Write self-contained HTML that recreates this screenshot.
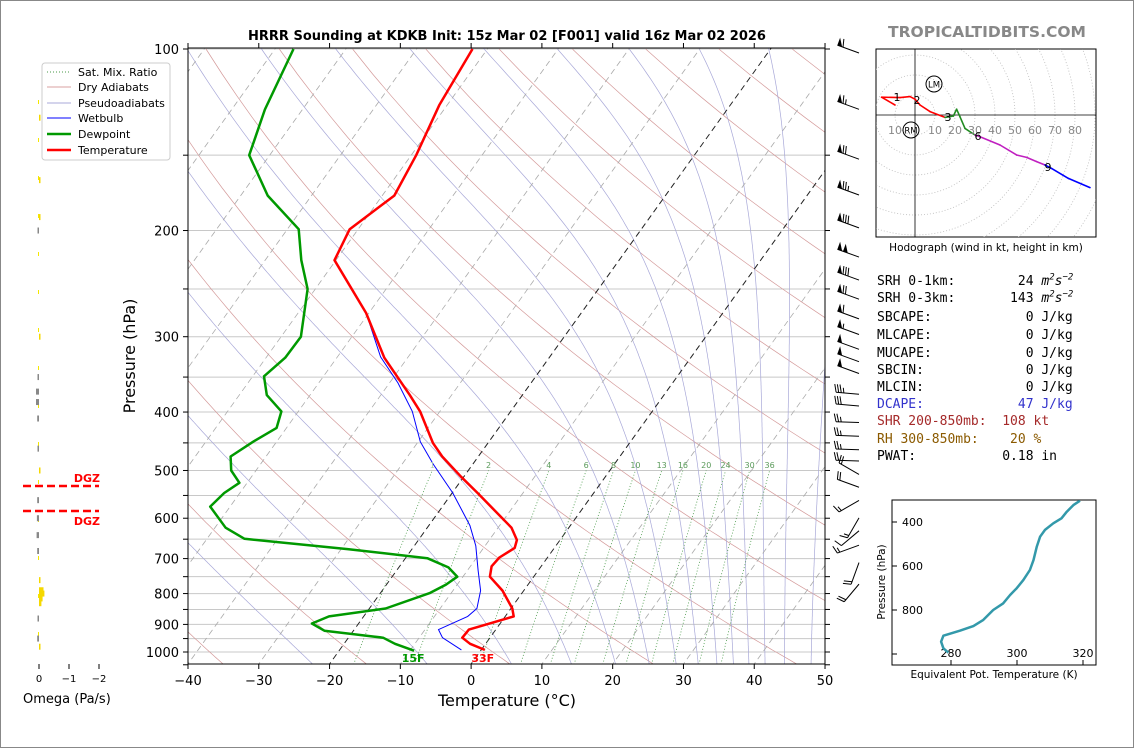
<!DOCTYPE html>
<html><head><meta charset="utf-8">
<style>
html,body{margin:0;padding:0;background:#fff;}
#wrap{position:relative;width:1134px;height:748px;overflow:hidden;background:#fff;}
svg{position:absolute;left:0;top:0;}
.ln{position:absolute;left:877px;font-family:"DejaVu Sans Mono","Liberation Mono",monospace;font-size:13px;white-space:pre;line-height:15px;}
</style></head>
<body>
<div id="wrap">
<svg id="svg" width="1134" height="748" font-family="DejaVu Sans, Liberation Sans, sans-serif">
  <defs><clipPath id="mainclip"><rect x="188" y="48" width="637" height="616"/></clipPath>
  <clipPath id="hodoclip"><rect x="876" y="49" width="220" height="188"/></clipPath>
  <clipPath id="thclip"><rect x="892" y="500" width="204" height="165"/></clipPath></defs>
  <rect x="0.5" y="0.5" width="1133" height="747" fill="none" stroke="#888"/>
  <text x="507" y="40" text-anchor="middle" font-size="13" font-weight="bold">HRRR Sounding at KDKB Init: 15z Mar 02 [F001] valid 16z Mar 02 2026</text>
  <text x="987" y="37" text-anchor="middle" font-size="15.5" font-weight="bold" fill="#888">TROPICALTIDBITS.COM</text>
  <g id="bg" clip-path="url(#mainclip)"></g>
  <g id="series" clip-path="url(#mainclip)"></g>
  <g id="axes"></g>
  <g id="barbs"></g>
  <g id="omega"></g>
  <g id="hodo"></g>
  <g id="theta"></g>
  <g>
    <rect x="42" y="63" width="128" height="97" rx="3" fill="#fff" stroke="#ccc"/>
    <line x1="47" y1="72" x2="71" y2="72" stroke="#4a9a4a" stroke-dasharray="1,2"/><text x="78" y="76" font-size="11">Sat. Mix. Ratio</text>
    <line x1="47" y1="87" x2="71" y2="87" stroke="#d9a0a0"/><text x="78" y="91" font-size="11">Dry Adiabats</text>
    <line x1="47" y1="103" x2="71" y2="103" stroke="#a8a8d8"/><text x="78" y="107" font-size="11">Pseudoadiabats</text>
    <line x1="47" y1="118" x2="71" y2="118" stroke="#0000ff"/><text x="78" y="122" font-size="11">Wetbulb</text>
    <line x1="47" y1="134" x2="71" y2="134" stroke="#009900" stroke-width="2.5"/><text x="78" y="138" font-size="11">Dewpoint</text>
    <line x1="47" y1="150" x2="71" y2="150" stroke="#ff0000" stroke-width="2.5"/><text x="78" y="154" font-size="11">Temperature</text>
  </g>
</svg>
<div class="ln" style="top:274px">SRH 0-1km:        24 <i>m<sup style="font-size:9px;line-height:0">2</sup>s<sup style="font-size:9px;line-height:0">−2</sup></i></div>
<div class="ln" style="top:291px">SRH 0-3km:       143 <i>m<sup style="font-size:9px;line-height:0">2</sup>s<sup style="font-size:9px;line-height:0">−2</sup></i></div>
<div class="ln" style="top:310px">SBCAPE:            0 J/kg</div>
<div class="ln" style="top:328px">MLCAPE:            0 J/kg</div>
<div class="ln" style="top:346px">MUCAPE:            0 J/kg</div>
<div class="ln" style="top:363px">SBCIN:             0 J/kg</div>
<div class="ln" style="top:380px">MLCIN:             0 J/kg</div>
<div class="ln" style="top:397px;color:#3333cc">DCAPE:            47 J/kg</div>
<div class="ln" style="top:414px;color:#a52a2a">SHR 200-850mb:  108 kt</div>
<div class="ln" style="top:432px;color:#8b5a00">RH 300-850mb:    20 %</div>
<div class="ln" style="top:449px">PWAT:           0.18 in</div>
</div>
<script>
// ---- data ----
const tempP=[100,124,150,175,199,224,274,325,375,399,450,474,512,545,622,652,672,697,721,750,791,847,873,918,947,969,992];
const tempT=[-62.1,-61.1,-59.3,-58.3,-61.2,-60.2,-50.4,-43.3,-35.9,-32.8,-27.8,-25.1,-20.4,-16.4,-8.1,-6.1,-5.6,-6.8,-7.0,-6.2,-3.0,0.2,1.2,-3.8,-3.9,-2.2,0.5];
const dewP=[100,126,150,175,199,224,250,300,325,349,375,399,425,448,474,500,524,545,574,622,649,675,699,724,750,773,798,847,873,897,922,947,969,995];
const dewT=[-87.4,-85.3,-82.9,-76.2,-68.4,-64.9,-61.1,-57.2,-57.3,-58.4,-56.1,-52.4,-51.4,-53.3,-55,-53.5,-51.1,-52.2,-52.8,-48.5,-44.7,-29.1,-16.9,-13.0,-10.8,-11.6,-13.0,-17.7,-24.9,-26.6,-24.1,-15.1,-12.8,-9.4];
const wbP=[100,124,150,175,199,224,274,324,358,399,448,488,545,617,667,732,791,847,873,918,947,992];
const wbT=[-62.1,-61.1,-59.3,-58.3,-61.2,-60.2,-50.4,-43.9,-38.8,-33.9,-29.7,-25.6,-19.9,-14.2,-11.3,-8.5,-6.1,-4.8,-5.3,-8.1,-6.7,-2.8];
const mixRatios=[1,2,4,6,8,10,13,16,20,24,30,36];
const pressureTicks=[100,200,300,400,500,600,700,800,900,1000];
const tempTicks=[-40,-30,-20,-10,0,10,20,30,40,50];
const barbP=[100,124,150,172,195,218,238,256,276,293,310,325,340,368,385,410,432,455,475,500,525,552,590,620,655,700,760];
const barbSpd=[60,65,70,75,80,100,80,70,60,55,50,50,50,35,30,25,25,25,20,20,20,15,15,10,15,20,20];
const barbDir=[290,290,290,290,290,290,290,290,290,290,290,290,290,275,275,272,272,272,272,300,290,240,210,230,250,200,220];
const omegaP=[130,165,190,200,300,350,370,385,410,460,500,560,600,640,680,760,790,800,815,830,880,950,980];
const omegaV=[-0.05,-0.04,-0.02,0.05,-0.02,0.05,0.1,0.1,0.06,0.04,-0.02,0.06,0.07,0.08,0.06,-0.05,-0.15,-0.18,-0.12,-0.08,0.05,0.06,-0.03];
const thetaE=[319.1,317.1,315.1,313.5,311,308.5,307,306,305,303.9,301.9,299.9,297.9,295.8,292.8,289.8,286.8,282.7,277.7,277,277.7,279.2];
const thetaP=[303,323,353,383,406,436,467,512,573,618,664,701,732,770,800,845,873,894,917,944,974,994];
const hodoU=[-10,-16.7,-7.5,-2.5,0,2.5,7.5,15,19.2,20.8,22.5,25,30,32.5,42.5,50.8,55.8,60.8,65,68.3,76.7,87.5];
const hodoV=[5,8.9,8.7,9.2,7.9,5,1.7,-1.2,-0.5,2.9,-0.9,-6.7,-10,-10.9,-15,-20,-21.2,-23.3,-25,-26.7,-31.7,-36.3];
const hodoSeg=['r','r','r','r','r','r','r','r','g','g','g','g','g','m','m','m','m','m','m','b','b','b'];

// ---- helpers ----
const NS='http://www.w3.org/2000/svg';
function mk(parent,tag,attrs,txt){const e=document.createElementNS(NS,tag);for(const k in attrs)e.setAttribute(k,attrs[k]);if(txt!==undefined)e.textContent=txt;parent.appendChild(e);return e;}
const yP=p=>49+603*Math.log10(p/100);
const xT=(T,p)=>188+(T+40)*7.078+0.717*(664-yP(p));
function pathFrom(ps,ts){return ps.map((p,i)=>(i?'L':'M')+xT(ts[i],p).toFixed(1)+','+yP(p).toFixed(1)).join('');}
const bg=document.getElementById('bg'),ser=document.getElementById('series'),ax=document.getElementById('axes');

for(let p=100;p<=1000;p+=50){const g=mk(bg,'line',{x1:188,x2:825,y1:yP(p),y2:yP(p),stroke:'#c8c8c8','stroke-width':1});
}
for(let th=175;th<=615;th+=20){let d='';for(let p=1060;p>=95;p-=10){const T=th*Math.pow(p/1000,0.286)-273.15;d+=(d?'L':'M')+xT(T,p).toFixed(1)+','+yP(p).toFixed(1);}
const e=mk(bg,'path',{d:d,fill:'none',stroke:'#d49a9a','stroke-width':0.7});}
const es=T=>6.112*Math.exp(17.67*T/(T+243.5));
for(let th=185;th<=625;th+=20){
  let T=th*Math.pow(0.1,0.286),p=95;let d='';
  while(p<=1060){d+=(d?'L':'M')+xT(T-273.15,p).toFixed(1)+','+yP(p).toFixed(1);
    const e=es(T-273.15);const rs=0.622*e/Math.max(p-e,1);
    const dTdp=(287*T+2.5e6*rs)/(1005+2.5e6*2.5e6*rs*0.622/(287*T*T))/p;T+=dTdp*2.5;p+=2.5;}
  const e=mk(bg,'path',{d:d,fill:'none',stroke:'#a8a8d8','stroke-width':0.7});}
for(let T=-120;T<=50;T+=10){const blk=(T===0||T===-20);
 const e=mk(bg,'line',{x1:xT(T,1060),y1:yP(1060),x2:xT(T,95),y2:yP(95),stroke:blk?'#222':'#aaa','stroke-width':blk?1:0.8,'stroke-dasharray':'6,4'});
 }
mixRatios.forEach(w=>{let d='';for(let p=1060;p>=500;p-=10){const e=p*w/(622+w);const l=Math.log(e/6.112);const Td=243.5*l/(17.67-l);d+=(d?'L':'M')+xT(Td,p).toFixed(1)+','+yP(p).toFixed(1);}
 const e=mk(bg,'path',{d:d,fill:'none',stroke:'#4a9a4a','stroke-width':0.8,'stroke-dasharray':'1,2'});
 const ee=500*w/(622+w),l=Math.log(ee/6.112),Td=243.5*l/(17.67-l);
 const t=mk(ax,'text',{x:xT(Td,500),y:468,'font-size':8,fill:w===1?'#b0d0b0':'#5a9a5a','text-anchor':'middle'},String(w));});
let e;
e=mk(ser,'path',{d:pathFrom(wbP,wbT),fill:'none',stroke:'#0000ff','stroke-width':1});
e=mk(ser,'path',{d:pathFrom(dewP,dewT),fill:'none',stroke:'#009900','stroke-width':2.5,'stroke-linejoin':'round'});
e=mk(ser,'path',{d:pathFrom(tempP,tempT),fill:'none',stroke:'#ff0000','stroke-width':2.5,'stroke-linejoin':'round'});
const sT=tempT[tempT.length-1],sTd=dewT[dewT.length-1];
e=mk(ax,'text',{x:xT(sT,tempP[tempP.length-1])-2,y:662,'font-size':11,'font-weight':'bold',fill:'#ff0000','text-anchor':'middle'},Math.round(sT*9/5+32)+'F');
e=mk(ax,'text',{x:xT(sTd,dewP[dewP.length-1])-1,y:662,'font-size':11,'font-weight':'bold',fill:'#009900','text-anchor':'middle'},Math.round(sTd*9/5+32)+'F');
e=mk(ax,'rect',{x:188,y:48,width:637,height:616,fill:'none',stroke:'#000','stroke-width':1});
for(let p=100;p<=1050;p+=50){const y=yP(p);mk(ax,'line',{x1:183,x2:188,y1:y,y2:y,stroke:'#000'});mk(ax,'line',{x1:825,x2:830,y1:y,y2:y,stroke:'#000'});}
pressureTicks.forEach(p=>{const t=mk(ax,'text',{x:179,y:yP(p)+5,'font-size':13,'text-anchor':'end'},String(p));});
tempTicks.forEach(T=>{const x=188+(T+40)*7.078;mk(ax,'line',{x1:x,x2:x,y1:664,y2:669,stroke:'#000'});mk(ax,'line',{x1:x,x2:x,y1:43,y2:48,stroke:'#000'});
 const t=mk(ax,'text',{x:x,y:685,'font-size':13,'text-anchor':'middle'},(T<0?'−':'')+Math.abs(T));});
e=mk(ax,'text',{x:507,y:706,'font-size':16,'text-anchor':'middle'},'Temperature (°C)');
e=mk(ax,'text',{x:0,y:0,'font-size':16,'text-anchor':'middle',transform:'translate(135,356) rotate(-90)'},'Pressure (hPa)');

// wind barbs
const bG=document.getElementById('barbs');
barbP.forEach((p,i)=>{const y=yP(p);const bx=859,by=y+4;const dir=barbDir[i]*Math.PI/180;
 const ux=Math.sin(dir);const L=23;
 const tipx=bx+ux*L,tipy=by-(-Math.cos(dir))*L*-1;
 const vx=ux,vy=(tipy-by)/L;
 const g=mk(bG,'g',{});
 mk(g,'line',{x1:bx,y1:by,x2:tipx,y2:tipy,stroke:'#000','stroke-width':1});
 const px=vy,py=-vx; let s=barbSpd[i],pos=0;
 const side=(py>0)?-1:1;
 while(s>=50){const a1=tipx-vx*pos,a2=tipy-vy*pos,b1=tipx-vx*(pos+5),b2=tipy-vy*(pos+5);
  mk(g,'polygon',{points:`${a1},${a2} ${a1+side*px*8},${a2+side*py*8} ${b1},${b2}`,fill:'#000'});pos+=6;s-=50;}
 while(s>=10){const a1=tipx-vx*pos,a2=tipy-vy*pos;mk(g,'line',{x1:a1,y1:a2,x2:a1+side*px*8+vx*2,y2:a2+side*py*8+vy*2,stroke:'#000','stroke-width':1});pos+=2.6;s-=10;}
 if(s>=5){if(pos===0)pos=3;const a1=tipx-vx*pos,a2=tipy-vy*pos;mk(g,'line',{x1:a1,y1:a2,x2:a1+side*px*5+vx,y2:a2+side*py*5+vy,stroke:'#000','stroke-width':1});}
});

// omega panel
const oG=document.getElementById('omega');const xO=v=>39-v*30;
e=mk(oG,'line',{x1:38.5,x2:38.5,y1:100,y2:650,stroke:'#f5e800','stroke-dasharray':'4,34','stroke-width':1});
omegaP.forEach((p,i)=>{const v=omegaV[i];const w=Math.max(1.5,Math.abs(xO(v)-xO(0)));
 const r=mk(oG,'rect',{x:v<0?xO(0):xO(0)-w,y:yP(p)-3,width:w,height:6,fill:v<0?'#f5d800':'#888'});});
[0,-1,-2].forEach(v=>{mk(oG,'line',{x1:xO(v),x2:xO(v),y1:664,y2:669,stroke:'#000'});const t=mk(oG,'text',{x:xO(v),y:682,'font-size':10,'text-anchor':'middle'},v===0?'0':'−'+Math.abs(v));});
e=mk(oG,'text',{x:23,y:703,'font-size':13},'Omega (Pa/s)');
[486,511].forEach((y,i)=>{const l=mk(oG,'line',{x1:23,x2:99,y1:y,y2:y,stroke:'#ff0000','stroke-width':2.5,'stroke-dasharray':'8,4'});
 const t=mk(oG,'text',{x:100,y:i?525:482,'font-size':11,'font-weight':'bold',fill:'#ff0000','text-anchor':'end'},'DGZ');});

// hodograph
const hG=document.getElementById('hodo');const hx=u=>915+u*2,hy=v=>115-v*2;
e=mk(hG,'rect',{x:876,y:49,width:220,height:188,fill:'#fff',stroke:'#000'});
const hc=mk(hG,'g',{'clip-path':'url(#hodoclip)'});
for(let r=10;r<=140;r+=10){const c=mk(hc,'circle',{cx:915,cy:115,r:r*2,fill:'none',stroke:'#bbb','stroke-dasharray':'1,2','stroke-width':0.8});}
mk(hc,'line',{x1:876,x2:1096,y1:115,y2:115,stroke:'#000','stroke-width':0.8});mk(hc,'line',{x1:915,x2:915,y1:49,y2:237,stroke:'#000','stroke-width':0.8});
const cols={r:'#ff0000',g:'#228b22',m:'#c020c0',b:'#0000ff'};
for(let i=1;i<hodoU.length;i++){const l=mk(hc,'line',{x1:hx(hodoU[i-1]),y1:hy(hodoV[i-1]),x2:hx(hodoU[i]),y2:hy(hodoV[i]),stroke:cols[hodoSeg[i]],'stroke-width':1.6,'stroke-linecap':'round'});}
[['10',895],['10',935],['20',955],['30',975],['40',995],['50',1015],['60',1035],['70',1055],['80',1075]].forEach(a=>{const t=mk(hc,'text',{x:a[1],y:134,'font-size':11,fill:'#888','text-anchor':'middle'},a[0]);});
[['1',897,101],['2',917,104],['3',948,121],['6',978,140],['9',1048,171]].forEach(a=>{const t=mk(hc,'text',{x:a[1],y:a[2],'font-size':11,'text-anchor':'middle'},a[0]);});
[['LM',934,84],['RM',911,130]].forEach(a=>{mk(hc,'circle',{cx:a[1],cy:a[2],r:8,fill:'none',stroke:'#000'});const t=mk(hc,'text',{x:a[1],y:a[2]+3.5,'font-size':8.5,'text-anchor':'middle'},a[0]);});
e=mk(hG,'text',{x:986,y:251,'font-size':10.5,'text-anchor':'middle'},'Hodograph (wind in kt, height in km)');

// theta-e panel
const tG=document.getElementById('theta');const txK=k=>951+(k-280)*3.3,tyP=p=>522+(p-400)*0.22;
e=mk(tG,'rect',{x:892,y:500,width:204,height:165,fill:'#fff',stroke:'#000'});
[400,600,800,1000].forEach(p=>{mk(tG,'line',{x1:892,x2:897,y1:tyP(p),y2:tyP(p),stroke:'#000'});if(p<1000){const t=mk(tG,'text',{x:923,y:tyP(p)+4,'font-size':11,'text-anchor':'end'},String(p));}});
[280,300,320].forEach(k=>{mk(tG,'line',{x1:txK(k),x2:txK(k),y1:660,y2:665,stroke:'#000'});const t=mk(tG,'text',{x:txK(k),y:657,'font-size':11,'text-anchor':'middle'},String(k));});
e=mk(tG,'path',{'clip-path':'url(#thclip)',d:thetaP.map((p,i)=>(i?'L':'M')+txK(thetaE[i]).toFixed(1)+','+tyP(p).toFixed(1)).join(''),fill:'none',stroke:'#3399aa','stroke-width':2.5,'stroke-linejoin':'round'});
e=mk(tG,'text',{x:994,y:678,'font-size':10.5,'text-anchor':'middle'},'Equivalent Pot. Temperature (K)');
e=mk(tG,'text',{x:0,y:0,'font-size':10.5,'text-anchor':'middle',transform:'translate(885,582) rotate(-90)'},'Pressure (hPa)');
</script>
</body></html>
